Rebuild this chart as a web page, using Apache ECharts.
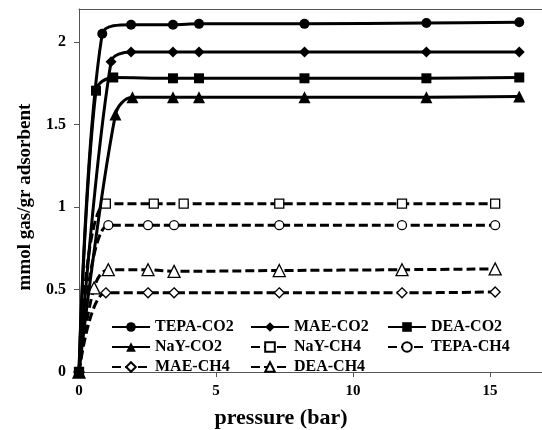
<!DOCTYPE html>
<html>
<head>
<meta charset="utf-8">
<script src="https://cdn.jsdelivr.net/npm/echarts@6/dist/echarts.min.js"></script>
<style>html,body{margin:0;padding:0;background:#fff}#c{width:542px;height:430px}</style>
</head>
<body>
<div id="c"></div>
<script>
// ---- data (pressure in bar, uptake in mmol gas / gr adsorbent) ----
var tepaCO2 = [[0,0],[0.85,2.05],[1.9,2.105],[3.43,2.105],[4.38,2.11],[8.23,2.11],[12.68,2.115],[16.07,2.12]];
var maeCO2  = [[0,0],[1.17,1.88],[1.9,1.94],[3.43,1.94],[4.38,1.94],[8.23,1.94],[12.68,1.94],[16.07,1.94]];
var deaCO2  = [[0,0],[0.62,1.705],[1.25,1.785],[3.43,1.78],[4.38,1.78],[8.23,1.78],[12.68,1.78],[16.07,1.785]];
var nayCO2  = [[0,0],[1.33,1.56],[1.95,1.665],[3.43,1.665],[4.38,1.665],[8.23,1.665],[12.68,1.665],[16.07,1.67]];
var nayCH4  = [[0,0],[0.98,1.02],[2.73,1.02],[3.82,1.02],[7.31,1.02],[11.79,1.02],[15.19,1.02]];
var tepaCH4 = [[0,0],[1.07,0.89],[2.52,0.89],[3.47,0.89],[7.31,0.89],[11.79,0.89],[15.19,0.89]];
var maeCH4  = [[0,0],[0.98,0.48],[2.52,0.48],[3.47,0.48],[7.31,0.48],[11.79,0.48],[15.19,0.485]];
var deaCH4  = [[0,0],[0.55,0.51],[1.07,0.62],[2.52,0.62],[3.47,0.61],[7.31,0.615],[11.79,0.62],[15.19,0.625]];
var xTicks = [0, 5, 10, 15];
var yTicks = [0, 0.5, 1, 1.5, 2];
var xTitle = 'pressure (bar)';
var yTitle = 'mmol gas/gr adsorbent';

var FONT = '"Liberation Serif", "Times New Roman", serif';

function co2(name, data, symbol, size) {
  return {
    name: name, type: 'line', data: data, smooth: 0.35,
    symbol: symbol, symbolSize: size, z: 3,
    lineStyle: { color: '#000', width: 3, type: 'solid' },
    itemStyle: { color: '#000', borderColor: '#000', borderWidth: 0 }
  };
}
function ch4(name, data, symbol, size) {
  return {
    name: name, type: 'line', data: data, smooth: 0.35,
    symbol: symbol, symbolSize: size, z: 2,
    lineStyle: { color: '#000', width: 3, type: [9, 4] },
    itemStyle: { color: '#fff', borderColor: '#000', borderWidth: 1.3 }
  };
}

var legendBase = {
  orient: 'vertical', top: 319, itemWidth: 38, itemHeight: 12, itemGap: 4,
  padding: 0,
  textStyle: { fontFamily: FONT, fontWeight: 'bold', fontSize: 16, color: '#000', lineHeight: 16 }
};

var chart = echarts.init(document.getElementById('c'), null, { renderer: 'canvas' });
chart.setOption({
  animation: false,
  backgroundColor: '#fff',
  grid: { left: 79, top: 9, right: -2, height: 363, show: false },
  xAxis: [{
    type: 'value', min: 0, max: 16.9,
    axisLine: { lineStyle: { color: '#555', width: 1 } },
    axisTick: { show: true, length: 5, inside: false, lineStyle: { color: '#555' }, customValues: xTicks },
    axisLabel: { margin: 12, fontFamily: FONT, fontWeight: 'bold', fontSize: 15, color: '#000', customValues: xTicks },
    splitLine: { show: false }
  }, {
    type: 'value', min: 0, max: 16.9, position: 'top',
    axisLine: { show: true, lineStyle: { color: '#555', width: 1 } },
    axisTick: { show: false }, axisLabel: { show: false }, splitLine: { show: false }
  }],
  yAxis: {
    type: 'value', min: 0, max: 2.2,
    axisLine: { show: true, lineStyle: { color: '#555', width: 1 } },
    axisTick: { show: true, length: 5, inside: false, lineStyle: { color: '#555' }, customValues: yTicks },
    axisLabel: { margin: 13, fontFamily: FONT, fontWeight: 'bold', fontSize: 16, color: '#000', customValues: yTicks },
    splitLine: { show: false }
  },
  legend: [
    Object.assign({}, legendBase, { left: 111, data: ['TEPA-CO2', 'NaY-CO2', 'MAE-CH4'] }),
    Object.assign({}, legendBase, { left: 250, data: ['MAE-CO2', 'NaY-CH4', 'DEA-CH4'] }),
    Object.assign({}, legendBase, { left: 387, data: ['DEA-CO2', 'TEPA-CH4'] })
  ],
  graphic: [
    { type: 'text', x: 281, y: 418, style: { text: xTitle, font: 'bold 22px ' + FONT, fill: '#000', textAlign: 'center', textVerticalAlign: 'middle' } },
    { type: 'text', x: 25, y: 197, rotation: Math.PI / 2, style: { text: yTitle, font: 'bold 19px ' + FONT, fill: '#000', textAlign: 'center', textVerticalAlign: 'middle' } }
  ],
  series: [
    ch4('NaY-CH4', nayCH4, 'rect', 9),
    ch4('TEPA-CH4', tepaCH4, 'circle', 9),
    ch4('MAE-CH4', maeCH4, 'diamond', 10),
    ch4('DEA-CH4', deaCH4, 'triangle', 12),
    co2('TEPA-CO2', tepaCO2, 'circle', 10),
    co2('MAE-CO2', maeCO2, 'diamond', 11),
    co2('DEA-CO2', deaCO2, 'rect', 10),
    co2('NaY-CO2', nayCO2, 'triangle', 12)
  ]
});
</script>
</body>
</html>
